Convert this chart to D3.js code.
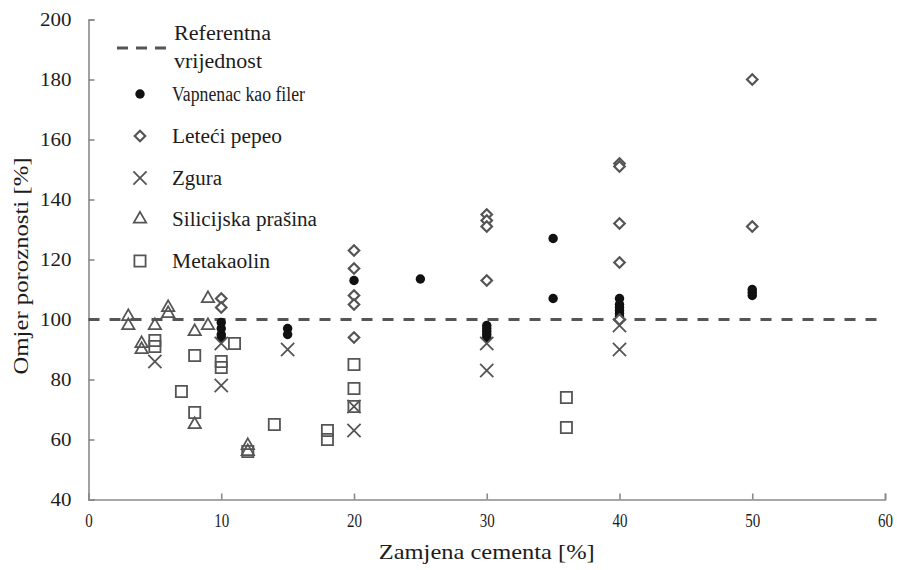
<!DOCTYPE html>
<html>
<head>
<meta charset="utf-8">
<script src="https://cdn.jsdelivr.net/npm/d3@7"></script>
<style>
  body { margin: 0; background: #fff; }
  svg { display: block; }
</style>
</head>
<body>
<svg id="chart" width="897" height="570"></svg>
<script>
// Axis ticks
const xTicks = [0, 10, 20, 30, 40, 50, 60];
const yTicks = [40, 60, 80, 100, 120, 140, 160, 180, 200];
const referenceValue = 100;

// [zamjena cementa %, omjer poroznosti %]
const vapnenac = [
  [10, 99], [10, 97], [10, 95], [10, 94], [15, 97], [15, 95], [20, 113], [25, 113.5],
  [30, 98], [30, 97], [30, 96], [30, 95], [30, 94], [35, 127], [35, 107],
  [40, 107], [40, 105], [40, 104], [40, 103], [40, 102], [40, 101],
  [50, 110], [50, 109], [50, 108]
];
const leteciPepeo = [
  [10, 107], [10, 104], [20, 123], [20, 117], [20, 108], [20, 105], [20, 94],
  [30, 135], [30, 133], [30, 131], [30, 113], [40, 152], [40, 151], [40, 132],
  [40, 119], [40, 100], [50, 180], [50, 131]
];
const zgura = [
  [5, 86], [10, 92], [10, 78], [15, 90], [20, 71], [20, 63], [30, 92], [30, 83],
  [40, 98], [40, 90]
];
const silicijskaPrasina = [
  [3, 101], [3, 98], [4, 92], [4, 90], [5, 98], [6, 104], [6, 102], [8, 96],
  [8, 65], [9, 107], [9, 98], [12, 58], [12, 56]
];
const metakaolin = [
  [5, 93], [5, 91], [7, 76], [8, 88], [8, 69], [10, 86], [10, 84], [11, 92],
  [12, 56], [14, 65], [18, 63], [18, 60], [20, 85], [20, 77], [20, 71],
  [36, 74], [36, 64]
];

const legendNames = ["Vapnenac kao filer", "Leteći pepeo", "Zgura", "Silicijska prašina", "Metakaolin"];
const referenceLabel = ["Referentna", "vrijednost"];
const xTitle = "Zamjena cementa [%]";
const yTitle = "Omjer poroznosti [%]";

const svg = d3.select("#chart");
const FONT = "'Liberation Serif', 'Times New Roman', serif";
const AXIS = "#8a8a8a";
const MARK = "#555";
const TEXT = "#1c1c1c";

const x = d3.scaleLinear().domain([0, 60]).range([88.5, 885]);
const y = d3.scaleLinear().domain([40, 200]).range([499.5, 19.5]);

// Diamond drawn as an equal-diagonal rhombus
const diamond = {
  draw(ctx, size) {
    const r = Math.sqrt(size) / 2;
    ctx.moveTo(0, -r); ctx.lineTo(r, 0); ctx.lineTo(0, r); ctx.lineTo(-r, 0); ctx.closePath();
  }
};

const series = [
  { data: vapnenac, type: d3.symbolCircle, size: 70, fill: "#111", stroke: "none", sw: 0 },
  { data: leteciPepeo, type: diamond, size: 110, fill: "#fff", stroke: MARK, sw: 2.2 },
  { data: zgura, type: d3.symbolTimes, size: 115, fill: "none", stroke: MARK, sw: 1.8 },
  { data: silicijskaPrasina, type: d3.symbolTriangle, size: 66, fill: "none", stroke: MARK, sw: 1.8 },
  { data: metakaolin, type: d3.symbolSquare, size: 125, fill: "none", stroke: MARK, sw: 1.8 }
];

// Axes with ticks pointing inward
const yAxis = svg.append("g")
  .attr("transform", `translate(${x(0)},0)`)
  .call(d3.axisLeft(y).tickValues(yTicks).tickSize(-6).tickPadding(17).tickFormat(d3.format("d")));
const xAxis = svg.append("g")
  .attr("transform", `translate(0,${y(40)})`)
  .call(d3.axisBottom(x).tickValues(xTicks).tickSize(-6).tickPadding(15).tickFormat(d3.format("d")));

[yAxis, xAxis].forEach(g => {
  g.select(".domain").attr("stroke", AXIS).attr("stroke-width", 1.6);
  g.selectAll(".tick line").attr("stroke", AXIS).attr("stroke-width", 1.6);
  g.selectAll(".tick text").attr("fill", TEXT).style("font-family", FONT).style("font-size", "18px");
});
yAxis.selectAll(".tick text")
  .attr("textLength", d => String(d).length * 10.5).attr("lengthAdjust", "spacingAndGlyphs");
xAxis.selectAll(".tick text")
  .attr("textLength", d => String(d).length * 7.5).attr("lengthAdjust", "spacingAndGlyphs");

// Reference line
svg.append("line")
  .attr("x1", x(0)).attr("x2", x(60))
  .attr("y1", y(referenceValue)).attr("y2", y(referenceValue))
  .attr("stroke", "#555").attr("stroke-width", 3).attr("stroke-dasharray", "11,10");

// Markers
series.forEach(s => {
  const sym = d3.symbol().type(s.type).size(s.size);
  svg.append("g").selectAll("path").data(s.data).join("path")
    .attr("transform", d => `translate(${x(d[0])},${y(d[1])})`)
    .attr("d", sym)
    .attr("fill", s.fill).attr("stroke", s.stroke).attr("stroke-width", s.sw);
});

// Axis titles
svg.append("text")
  .attr("x", x(30)).attr("y", 559)
  .attr("text-anchor", "middle").attr("fill", TEXT)
  .style("font-family", FONT).style("font-size", "21px")
  .attr("textLength", 216).attr("lengthAdjust", "spacingAndGlyphs")
  .text(xTitle);
svg.append("text")
  .attr("transform", "translate(28,266) rotate(-90)")
  .attr("text-anchor", "middle").attr("fill", TEXT)
  .style("font-family", FONT).style("font-size", "21px")
  .attr("textLength", 217).attr("lengthAdjust", "spacingAndGlyphs")
  .text(yTitle);

// Legend
const legend = svg.append("g");
legend.append("line")
  .attr("x1", 117).attr("x2", 167).attr("y1", 48).attr("y2", 48)
  .attr("stroke", "#555").attr("stroke-width", 3).attr("stroke-dasharray", "11,8");
const refWidths = [97, 88];
referenceLabel.forEach((t, i) => {
  legend.append("text")
    .attr("x", 174).attr("y", 40 + i * 28)
    .attr("fill", TEXT).style("font-family", FONT).style("font-size", "20px")
    .attr("textLength", refWidths[i]).attr("lengthAdjust", "spacingAndGlyphs")
    .text(t);
});
const legendWidths = [133, 110, 50, 145, 98];
const legendRows = [94, 136, 178, 219, 261];
series.forEach((s, i) => {
  legend.append("path")
    .attr("transform", `translate(140,${legendRows[i]})`)
    .attr("d", d3.symbol().type(s.type).size(s.size)())
    .attr("fill", s.fill).attr("stroke", s.stroke).attr("stroke-width", s.sw);
  legend.append("text")
    .attr("x", 172).attr("y", legendRows[i] + 7)
    .attr("fill", TEXT).style("font-family", FONT).style("font-size", "20px")
    .attr("textLength", legendWidths[i]).attr("lengthAdjust", "spacingAndGlyphs")
    .text(legendNames[i]);
});
</script>
</body>
</html>
